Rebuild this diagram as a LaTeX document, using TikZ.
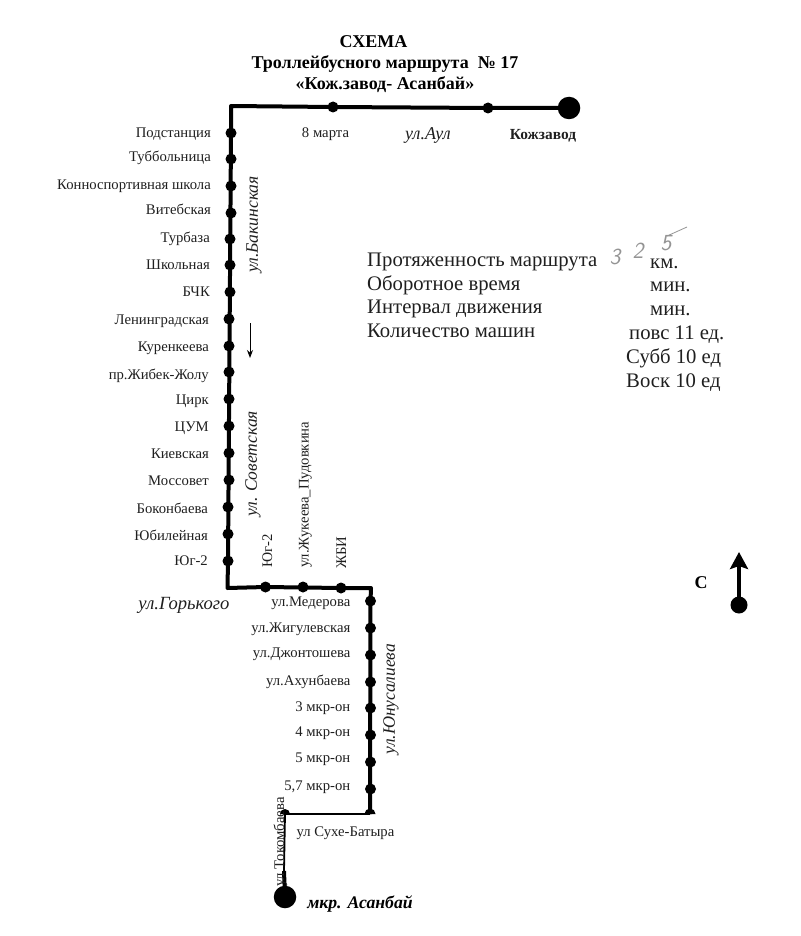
\documentclass[tikz,border=0pt]{standalone}
\usepackage{fontspec}
\setmainfont{Liberation Serif}
\usetikzlibrary{arrows.meta}
\begin{document}
\begin{tikzpicture}[x=1pt,y=-1pt,
  stopdot/.style={circle,fill=black,inner sep=0pt,minimum size=11pt},
  termdot/.style={circle,fill=black,inner sep=0pt,minimum size=22.5pt},
  route/.style={line width=4pt,line join=round},
  thinroute/.style={line width=1.8pt,line join=round},
  lbl/.style={font=\fontsize{14.7}{16}\selectfont,inner sep=0pt,text=black!88},
  lleft/.style={lbl,anchor=base east},
  lcentre/.style={lbl,anchor=center},
  lrot/.style={lbl,rotate=90,anchor=base west},
  street/.style={font=\fontsize{17.5}{19}\selectfont\itshape,inner sep=0pt,text=black!88},
  info/.style={font=\fontsize{20.7}{22}\selectfont,inner sep=0pt,anchor=base west,text=black!88},
  titletext/.style={font=\fontsize{18}{20}\selectfont\bfseries,inner sep=0pt},
  hand/.style={font=\fontsize{23}{23}\selectfont\sffamily\itshape,text=black!42,inner sep=0pt}]
\useasboundingbox (0,0) rectangle (800,936);
% title
\node[titletext] (t1) at (373.5,42) {СХЕМА};
\node[titletext] (t2) at (385,64.5) {Троллейбусного маршрута\ \ № 17};
\node[titletext] (t3) at (385,85) {«Кож.завод- Асанбай»};
% corners
\coordinate (c1) at (231,106);
\coordinate (c2) at (227.5,588);
\coordinate (c3) at (371,588);
\coordinate (c4) at (370,814);
\coordinate (c5) at (285,814);
\coordinate (c6) at (284,871);
% stops top
\node[termdot] (kz) at (569,108) {};
\node[stopdot] (a1) at (333,107) {};
\node[stopdot] (a2) at (488,108) {};
\node[termdot] (as) at (285,897) {};
% left column
\foreach \n/\x/\y/\ly/\t in {
 b1/231/133/133/Подстанция, b2/231/159/157/Туббольница, b3/231/186/185/Конноспортивная школа,
 b4/231/213/209.5/Витебская, b5/230/239/238/Турбаза, b6/230/265/265/Школьная, b7/230/292/292/БЧК,
 b8/229/319/320/Ленинградская, b9/229/346/347/Куренкеева, b10/229/372/375/пр.Жибек-Жолу,
 b11/229/399/400/Цирк, b12/229/426/427/ЦУМ, b13/229/453/454/Киевская, b14/229/480/481/Моссовет,
 b15/228/507/509/Боконбаева, b16/228/534/536/Юбилейная, b17/228/561/561/Юг-2}
 {\node[stopdot] (\n) at (\x,\y) {};
  \node[lleft] (\n l) at (\x-20,\ly+4.5) {\t};}
% bottom stops
\node[stopdot] (d1) at (265.5,587) {};
\node[stopdot] (d2) at (303,587) {};
\node[stopdot] (d3) at (341,588) {};
\node[lrot] (d1l) at (272,568) {Юг-2};
\node[lrot] (d2l) at (308.5,568) {ул.Жукеева\_Пудовкина};
\node[lrot] (d3l) at (346,569) {ЖБИ};
% right column
\foreach \n/\y/\ly/\t in {
 e1/601/602/ул.Медерова, e2/628/628/ул.Жигулевская, e3/655/653/ул.Джонтошева, e4/682/681/ул.Ахунбаева,
 e5/708/707/3 мкр-он, e6/735/732/4 мкр-он, e7/762/758/5 мкр-он, e8/789/786/{5,7 мкр-он}}
 {\node[stopdot] (\n) at (370.5,\y) {};
  \node[lleft] (\n l) at (350.5,\ly+4.5) {\t};}
% route
\draw[route] (kz.center) -- (a2.center) -- (a1.center) -- (c1) -- (b1.center) -- (b17.center) -- (c2)
  -- (d1.center) -- (d3.center) -- (c3) -- (e1.center) -- (c4);
\draw[thinroute] (c4) -- (c5) -- (c6);
\draw[route] (c6) -- (as.center);
\fill ([xshift=-5.5pt]c4) arc[start angle=180,end angle=0,radius=5.5pt] -- cycle;
\fill ([xshift=-5pt]c5) arc[start angle=180,end angle=0,radius=5pt] -- cycle;
% labels
\node[lcentre] (l1) at (325.5,134) {8 марта};
\node[street,font=\fontsize{18}{20}\selectfont\itshape] (l2) at (428,135.5) {ул.Аул};
\node[lcentre,font=\fontsize{15.4}{17}\selectfont\bfseries] (l3) at (543,135.5) {Кожзавод};
\node[street,rotate=90] (s1) at (254,224.5) {ул.Бакинская};
\node[street,rotate=90] (s2) at (253,464) {ул. Советская};
\node[street,font=\fontsize{18.6}{20}\selectfont\itshape] (s3) at (184,605) {ул.Горького};
\node[street,rotate=90] (s4) at (391,699) {ул.Юнусалиева};
\node[lbl,rotate=90,anchor=base] (s5) at (284,842) {ул Токомбаева};
\node[lcentre] (s6) at (345.5,833) {ул Сухе-Батыра};
\node[font=\fontsize{17.7}{19}\selectfont\bfseries\itshape,inner sep=0pt] (s7) at (360,904) {мкр. Асанбай};
% direction arrow
\coordinate (ar1) at (250,323);
\coordinate (ar2) at (250,358);
\draw[-{Stealth[length=8pt,width=6pt]},line width=1pt] (ar1) -- (ar2);
% info
\node[info] (i1) at (367,266) {Протяженность маршрута};
\node[info] (i2) at (367,290) {Оборотное время};
\node[info] (i3) at (367,313) {Интервал движения};
\node[info] (i4) at (367,337) {Количество машин};
\node[info] (i5) at (650,268) {км.};
\node[info] (i6) at (650,291) {мин.};
\node[info] (i7) at (650,315) {мин.};
\node[info] (i8) at (629,339) {повс 11 ед.};
\node[info] (i9) at (626,363) {Субб 10 ед};
\node[info] (i10) at (626,387) {Воск 10 ед};
% handwriting
\node[hand] (h1) at (615,257) {3};
\node[hand] (h2) at (638,251) {2};
\node[hand] (h3) at (666,243) {5};
\coordinate (h4) at (667,236);
\coordinate (h5) at (687,227);
\draw[black!42,line width=0.8pt] (h4) -- (h5);
% compass
\node[font=\fontsize{18}{20}\selectfont\bfseries,inner sep=0pt] (cc) at (701,583) {С};
\node[circle,fill=black,inner sep=0pt,minimum size=17pt] (cd) at (739,605) {};
\coordinate (ct) at (739,552);
\draw[-{Stealth[length=17pt,width=18pt,inset=3pt]},line width=4pt] (cd.center) -- (ct);
\end{tikzpicture}
\end{document}
